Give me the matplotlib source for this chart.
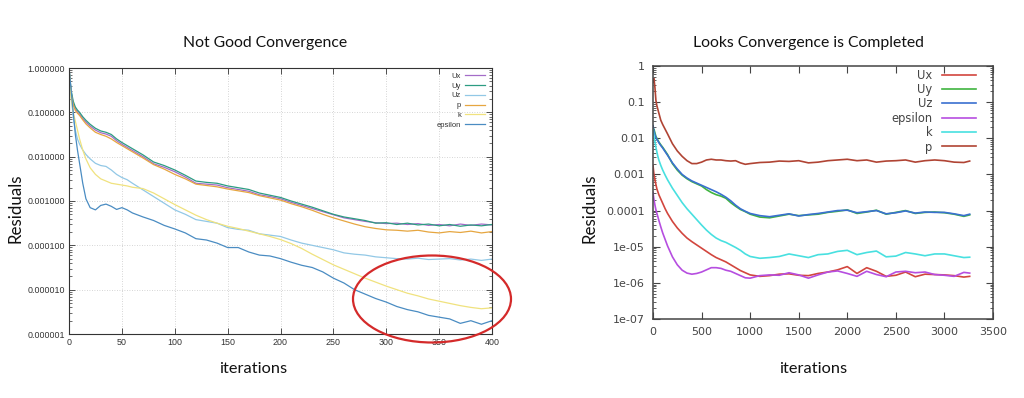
import matplotlib
matplotlib.use("Agg")
import matplotlib.pyplot as plt
from matplotlib.patches import Ellipse
from matplotlib.ticker import LogLocator, NullFormatter, FixedLocator, NullLocator

# ---------------- data: left chart (Not Good Convergence) ----------------
left_x = [0, 2, 4, 6, 8, 10, 13, 16, 20, 25, 30, 35, 40, 45, 50, 55, 60, 70, 80, 90,
          100, 110, 120, 130, 140, 150, 160, 170, 180, 190, 200, 210, 220, 230, 240,
          250, 260, 270, 280, 290, 300, 310, 320, 330, 340, 350, 360, 370, 380, 390, 400]
left_names = ["Ux", "Uy", "Uz", "p", "k", "epsilon"]
# log10 of residuals
left_uy = [0, -0.5, -0.75, -0.88, -0.95, -1.0, -1.1, -1.18, -1.27, -1.36, -1.42, -1.45, -1.5,
           -1.6, -1.68, -1.75, -1.82, -1.96, -2.12, -2.2, -2.3, -2.42, -2.55, -2.58, -2.6,
           -2.66, -2.7, -2.74, -2.82, -2.87, -2.92, -3.0, -3.07, -3.14, -3.22, -3.3, -3.36,
           -3.4, -3.44, -3.5, -3.49, -3.53, -3.5, -3.54, -3.52, -3.56, -3.53, -3.57, -3.54,
           -3.56, -3.53]
left_ux = [0, -0.55, -0.8, -0.92, -0.99, -1.04, -1.14, -1.22, -1.31, -1.4, -1.46, -1.49, -1.54,
           -1.64, -1.72, -1.79, -1.86, -2.0, -2.16, -2.24, -2.34, -2.46, -2.6, -2.62, -2.64,
           -2.7, -2.74, -2.78, -2.86, -2.9, -2.95, -3.03, -3.1, -3.17, -3.24, -3.31, -3.38,
           -3.42, -3.46, -3.49, -3.51, -3.5, -3.53, -3.51, -3.55, -3.53, -3.56, -3.52, -3.55,
           -3.52, -3.54]
left_uz = [0, -0.6, -1.1, -1.4, -1.6, -1.72, -1.85, -1.95, -2.05, -2.15, -2.2, -2.22, -2.3,
           -2.4, -2.47, -2.52, -2.6, -2.75, -2.9, -3.05, -3.2, -3.3, -3.42, -3.46, -3.5,
           -3.6, -3.64, -3.66, -3.74, -3.77, -3.8, -3.88, -3.95, -4.0, -4.05, -4.1, -4.17,
           -4.2, -4.22, -4.26, -4.28, -4.3, -4.31, -4.29, -4.32, -4.31, -4.3, -4.33, -4.31,
           -4.34, -4.31]
left_p = [0, -0.58, -0.83, -0.96, -1.02, -1.07, -1.17, -1.26, -1.35, -1.45, -1.5, -1.54, -1.6,
          -1.68, -1.75, -1.82, -1.89, -2.03, -2.18, -2.28, -2.4, -2.5, -2.62, -2.65, -2.68,
          -2.73, -2.77, -2.81, -2.88, -2.93, -2.98, -3.06, -3.13, -3.21, -3.3, -3.38, -3.45,
          -3.52, -3.58, -3.62, -3.65, -3.66, -3.68, -3.66, -3.7, -3.72, -3.69, -3.71, -3.68,
          -3.72, -3.69]
left_k = [0, -0.7, -1.0, -1.2, -1.4, -1.6, -1.85, -2.05, -2.25, -2.4, -2.5, -2.55, -2.6,
          -2.62, -2.64, -2.66, -2.69, -2.72, -2.82, -2.95, -3.08, -3.2, -3.32, -3.42, -3.5,
          -3.57, -3.62, -3.68, -3.74, -3.8, -3.87, -3.96, -4.07, -4.2, -4.32, -4.44, -4.54,
          -4.64, -4.74, -4.83, -4.92, -5.0, -5.08, -5.14, -5.21, -5.26, -5.31, -5.36, -5.4,
          -5.43, -5.41]
left_eps = [0, -0.5, -1.0, -1.5, -1.85, -2.15, -2.6, -2.95, -3.15, -3.2, -3.1, -3.07, -3.12,
            -3.19, -3.15, -3.2, -3.27, -3.36, -3.44, -3.55, -3.63, -3.72, -3.85, -3.88, -3.95,
            -4.05, -4.05, -4.15, -4.22, -4.24, -4.3, -4.38, -4.45, -4.5, -4.6, -4.74, -4.85,
            -5.0, -5.1, -5.2, -5.28, -5.38, -5.45, -5.5, -5.58, -5.62, -5.66, -5.76, -5.7,
            -5.78, -5.7]
left_yticks = [1e-6, 1e-5, 1e-4, 1e-3, 1e-2, 1e-1, 1]
left_ytick_labels = ["0.000001", "0.000010", "0.000100", "0.001000", "0.010000", "0.100000", "1.000000"]
left_xticks = [0, 50, 100, 150, 200, 250, 300, 350, 400]

# ---------------- data: right chart (Looks Convergence is Completed) ----------------
right_x = [0, 10, 20, 30, 40, 50, 60, 80, 100, 125, 150, 200, 250, 300, 350, 400, 450, 500,
           550, 600, 650, 700, 750, 800, 850, 900, 950, 1000, 1100, 1200, 1300, 1400, 1500,
           1600, 1700, 1800, 1900, 2000, 2100, 2200, 2300, 2400, 2500, 2600, 2700, 2800,
           2900, 3000, 3100, 3200, 3260]
right_names = ["Ux", "Uy", "Uz", "epsilon", "k", "p"]
right_ux = [-2.75, -3.0, -3.15, -3.28, -3.4, -3.48, -3.56, -3.68, -3.8, -3.95, -4.08, -4.3,
            -4.48, -4.63, -4.76, -4.86, -4.95, -5.04, -5.13, -5.22, -5.3, -5.36, -5.42, -5.5,
            -5.58, -5.66, -5.72, -5.78, -5.82, -5.8, -5.76, -5.75, -5.79, -5.8, -5.74, -5.7,
            -5.64, -5.55, -5.74, -5.58, -5.68, -5.82, -5.79, -5.7, -5.83, -5.76, -5.77,
            -5.78, -5.8, -5.84, -5.82]
right_uy = [-1.8, -1.75, -1.85, -1.95, -2.0, -2.05, -2.1, -2.18, -2.25, -2.35, -2.45, -2.7,
            -2.88, -3.02, -3.12, -3.2, -3.26, -3.32, -3.42, -3.5, -3.56, -3.6, -3.66, -3.78,
            -3.88, -3.97, -4.03, -4.1, -4.18, -4.2, -4.15, -4.1, -4.14, -4.12, -4.1, -4.05,
            -4.02, -3.98, -4.08, -4.04, -3.99, -4.1, -4.05, -4.0, -4.08, -4.05, -4.04, -4.06,
            -4.1, -4.16, -4.12]
right_uz = [-1.65, -1.8, -1.9, -1.98, -2.03, -2.07, -2.12, -2.2, -2.27, -2.37, -2.47, -2.68,
            -2.85, -3.0, -3.1, -3.18, -3.24, -3.3, -3.36, -3.42, -3.48, -3.55, -3.63, -3.73,
            -3.85, -3.95, -4.02, -4.08, -4.14, -4.17, -4.13, -4.09, -4.15, -4.11, -4.08,
            -4.04, -4.0, -3.99, -4.06, -4.03, -4.0, -4.09, -4.06, -4.01, -4.07, -4.04, -4.05,
            -4.05, -4.09, -4.14, -4.1]
right_eps = [-3.5, -3.7, -3.85, -3.98, -4.08, -4.17, -4.27, -4.45, -4.62, -4.8, -4.98, -5.28,
             -5.5, -5.65, -5.73, -5.76, -5.74, -5.7, -5.64, -5.58, -5.58, -5.6, -5.65, -5.68,
             -5.74, -5.8, -5.86, -5.87, -5.8, -5.78, -5.79, -5.72, -5.78, -5.87, -5.78, -5.7,
             -5.67, -5.74, -5.82, -5.68, -5.77, -5.83, -5.7, -5.68, -5.72, -5.7, -5.77, -5.79,
             -5.82, -5.71, -5.73]
right_k = [-1.75, -1.95, -2.1, -2.25, -2.38, -2.5, -2.6, -2.75, -2.88, -3.02, -3.15, -3.38,
           -3.58, -3.78, -3.95, -4.1, -4.25, -4.4, -4.54, -4.66, -4.76, -4.83, -4.88, -4.95,
           -5.02, -5.1, -5.2, -5.27, -5.32, -5.3, -5.27, -5.2, -5.25, -5.3, -5.22, -5.2,
           -5.13, -5.1, -5.22, -5.16, -5.12, -5.28, -5.26, -5.16, -5.2, -5.25, -5.2, -5.2,
           -5.25, -5.3, -5.29]
right_p = [-0.45, -0.35, -0.6, -0.95, -1.1, -1.2, -1.3, -1.5, -1.62, -1.75, -1.88, -2.15,
           -2.35, -2.5, -2.62, -2.7, -2.7, -2.66, -2.6, -2.58, -2.6, -2.6, -2.62, -2.63,
           -2.62, -2.68, -2.72, -2.7, -2.67, -2.66, -2.63, -2.64, -2.62, -2.68, -2.66, -2.62,
           -2.6, -2.58, -2.62, -2.6, -2.66, -2.63, -2.62, -2.6, -2.66, -2.62, -2.6, -2.62,
           -2.66, -2.67, -2.63]
right_yticks = [1e-7, 1e-6, 1e-5, 1e-4, 1e-3, 1e-2, 1e-1, 1]
right_ytick_labels = ["1e-07", "1e-06", "1e-05", "0.0001", "0.001", "0.01", "0.1", "1"]
right_xticks = [0, 500, 1000, 1500, 2000, 2500, 3000, 3500]

left_colors = ["#a46cc8", "#2c9c82", "#92c8e6", "#e6a640", "#f0e27e", "#4a8cc2"]
right_colors = ["#d2463e", "#40b440", "#3a70d0", "#b64ee0", "#48e0e0", "#b04434"]

W, H = 1024, 398
fig = plt.figure(figsize=(W / 100, H / 100), dpi=100)
fig.patch.set_facecolor("white")

def fx(px):
    return px / W

def fy(py):
    return 1 - py / H

head_font = "Lato"

# ---------------- left axes ----------------
axL = fig.add_axes([fx(69), fy(334), fx(492) - fx(69), fy(68) - fy(334)])
left_series = [left_ux, left_uy, left_uz, left_p, left_k, left_eps]
for name, vals, col in zip(left_names, left_series, left_colors):
    axL.plot(left_x, [10 ** v for v in vals], color=col, lw=0.9, label=name)
axL.set_yscale("log")
axL.set_xlim(0, 400)
axL.set_ylim(1e-6, 1)
axL.yaxis.set_major_locator(FixedLocator(left_yticks))
axL.set_yticklabels(left_ytick_labels)
axL.yaxis.set_minor_locator(LogLocator(base=10, subs=range(2, 10)))
axL.yaxis.set_minor_formatter(NullFormatter())
axL.set_xticks(left_xticks)
axL.xaxis.set_minor_locator(NullLocator())
axL.grid(True, which="major", color="#c8c8c8", lw=0.6, ls=(0, (1, 2)))
axL.tick_params(which="both", direction="in", top=True, right=True, colors="#333333",
                labelsize=6.4, labelcolor="#333333", pad=3)
axL.tick_params(which="major", length=4, width=0.6)
axL.tick_params(which="minor", length=2, width=0.5)
for s in axL.spines.values():
    s.set_color("#333333")
    s.set_linewidth(0.8)
for t in axL.get_xticklabels() + axL.get_yticklabels():
    t.set_fontfamily("Liberation Sans")
legL = axL.legend(loc="upper right", bbox_to_anchor=(fx(487), fy(70)),
                  bbox_transform=fig.transFigure, frameon=False, markerfirst=False,
                  handlelength=2.6, handletextpad=0.5, labelspacing=0.33,
                  borderaxespad=0.0, borderpad=0.3,
                  prop={"family": "Liberation Sans", "size": 5.5})
for t in legL.get_texts():
    t.set_color("#333333")

# ---------------- right axes ----------------
axR = fig.add_axes([fx(653), fy(319), fx(993) - fx(653), fy(66) - fy(319)])
right_series = [right_ux, right_uy, right_uz, right_eps, right_k, right_p]
for name, vals, col in zip(right_names, right_series, right_colors):
    axR.plot(right_x, [10 ** v for v in vals], color=col, lw=1.2, label=name)
axR.set_yscale("log")
axR.set_xlim(0, 3500)
axR.set_ylim(1e-7, 1)
axR.yaxis.set_major_locator(FixedLocator(right_yticks))
axR.set_yticklabels(right_ytick_labels)
axR.yaxis.set_minor_locator(LogLocator(base=10, subs=range(2, 10)))
axR.yaxis.set_minor_formatter(NullFormatter())
axR.set_xticks(right_xticks)
axR.xaxis.set_minor_locator(NullLocator())
axR.tick_params(which="both", direction="in", top=True, right=True, colors="#444444",
                labelsize=8, labelcolor="#444444", pad=6)
axR.tick_params(which="major", length=5, width=0.8)
axR.tick_params(which="minor", length=2.5, width=0.6)
for s in axR.spines.values():
    s.set_color("#444444")
    s.set_linewidth(1.1)
legR = axR.legend(loc="upper right", bbox_to_anchor=(fx(981), fy(64)),
                  bbox_transform=fig.transFigure, frameon=False, markerfirst=False,
                  handlelength=3.0, handletextpad=0.8, labelspacing=0.12,
                  borderaxespad=0.0, borderpad=0.4,
                  prop={"family": "DejaVu Sans", "size": 8.3})
for t in legR.get_texts():
    t.set_color("#444444")

# ---------------- titles & labels ----------------
fig.text(fx(265), fy(43), "Not Good Convergence", ha="center", va="center",
         fontsize=11.3, family=head_font, color="#111111")
fig.text(fx(808), fy(43), "Looks Convergence is Completed", ha="center", va="center",
         fontsize=11.3, family=head_font, color="#111111")
fig.text(fx(16), fy(208), "Residuals", ha="center", va="center", rotation=90,
         fontsize=12.2, family=head_font, color="#111111")
fig.text(fx(589), fy(208), "Residuals", ha="center", va="center", rotation=90,
         fontsize=12.2, family=head_font, color="#111111")
fig.text(fx(253), fy(369), "iterations", ha="center", va="center",
         fontsize=11.8, family=head_font, color="#111111")
fig.text(fx(813), fy(369), "iterations", ha="center", va="center",
         fontsize=11.8, family=head_font, color="#111111")

# red highlight ellipse
ell = Ellipse((fx(432), fy(299)), fx(158), 87 / H, transform=fig.transFigure,
              fill=False, edgecolor="#d42a2a", lw=1.6, clip_on=False)
fig.patches.append(ell)

fig.savefig("out.png", dpi=100, facecolor="white")
